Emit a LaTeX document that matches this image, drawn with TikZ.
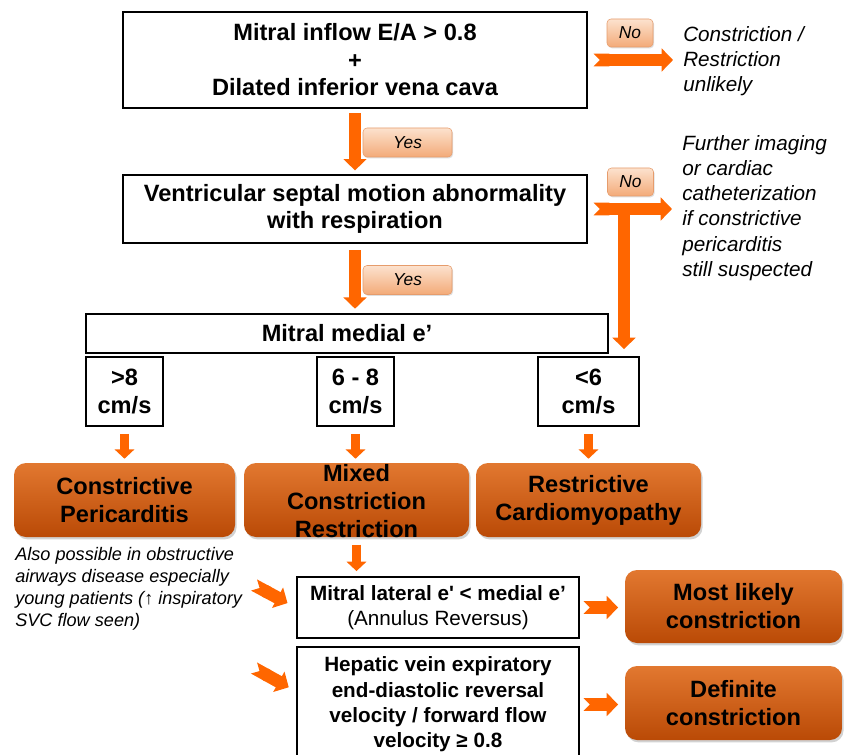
\documentclass[tikz,border=0pt]{standalone}
\usepackage{fontspec}
\setmainfont{Liberation Sans}[Ligatures=TeXOff]
\usetikzlibrary{%
        arrows.meta,
        shadows
    }
\definecolor{flame}{RGB}{255, 102, 0}
\definecolor{rusttop}{RGB}{226, 120, 48}
\definecolor{rustbot}{RGB}{186, 74, 6}
\definecolor{peachtop}{RGB}{252, 226, 206}
\definecolor{peachbot}{RGB}{243, 170, 120}
\definecolor{peachline}{RGB}{230, 156, 108}
\tikzset{%
    question/.style={draw, line width=1.9pt, align=center, inner sep=0pt,
        font=\fontsize{17.7}{20.6}\selectfont\bfseries},
    criterion/.style={question, font=\fontsize{15.5}{18.9}\selectfont},
    outcome/.style={rounded corners=9pt, top color=rusttop,
        bottom color=rustbot, align=center, inner sep=0pt,
        drop shadow={shadow xshift=1.2pt, shadow yshift=-1.8pt,
            opacity=0.35},
        font=\fontsize{17.7}{21}\selectfont\bfseries},
    answer/.style={rounded corners=3pt, top color=peachtop,
        bottom color=peachbot, draw=peachline, line width=0.4pt,
        inner sep=0pt, drop shadow={shadow xshift=0.8pt,
            shadow yshift=-1pt, opacity=0.25},
        font=\fontsize{13}{15}\selectfont\itshape},
    remark/.style={align=left, inner sep=0pt,
        font=\fontsize{15.5}{18.9}\selectfont\itshape},
    flow/.style={draw=flame, line width=9.5pt,
        -{Triangle[width=17pt, length=8.5pt]}},
    notched/.style={flow,
        {Triangle Cap[reversed]}-{Triangle[width=17pt, length=8.5pt]}},
    thinflow/.style={draw=flame, line width=7pt,
        -{Triangle[width=14.5pt, length=7pt]}}
}

\begin{document}
\begin{tikzpicture}[x=0.75pt, y=-0.75pt]

    \fill[white] (0, 0) rectangle (848, 755);
    \useasboundingbox (0, 0) rectangle (848, 755);

    % Questions
    \node[question, minimum width=348pt, minimum height=72pt] (inflow)
        at (355, 60) {Mitral inflow E/A > 0.8\\+\\Dilated inferior vena cava};
    \node[question, minimum width=348pt, minimum height=51pt] (septal)
        at (355, 209) {Ventricular septal motion abnormality\\with respiration};
    \node[question, minimum width=391.5pt, minimum height=29.25pt] (medial)
        at (347, 333.5) {Mitral medial e’};

    % Velocity ranges
    \node[question, minimum width=57.75pt, minimum height=51.75pt] (gt8)
        at (124.5, 391.5) {>8\\cm/s};
    \node[question, minimum width=57.75pt, minimum height=51.75pt] (mid)
        at (355.5, 391.5) {6 - 8\\cm/s};
    \node[question, minimum width=75.75pt, minimum height=51.75pt] (lt6)
        at (588.5, 391.5) {<6\\cm/s};

    % Diagnoses
    \node[outcome, minimum width=165.75pt, minimum height=55.5pt] (constr)
        at (124.5, 500) {Constrictive\\Pericarditis};
    \node[outcome, minimum width=168.75pt, minimum height=55.5pt] (mixed)
        at (356.5, 500) {\smash{\raisebox{-7.4pt}{%
            \begin{tabular}{@{}c@{}}
                Mixed\\Constriction\\Restriction
            \end{tabular}}}};
    \node[outcome, minimum width=168.75pt, minimum height=55.5pt] (restr)
        at (588.5, 500) {Restrictive\\Cardiomyopathy};

    % Further criteria
    \node[criterion, minimum width=211.5pt, minimum height=45.75pt] (lateral)
        at (438, 607.5) {\textbf{Mitral lateral e' < medial e’}\\
            (Annulus Reversus)};
    \node[criterion, minimum width=211.5pt, minimum height=86.25pt,
        font=\fontsize{15.5}{19}\selectfont\bfseries] (hepatic)
        at (438, 704.5) {Hepatic vein expiratory\\end-diastolic reversal\\
            velocity / forward flow\\velocity ≥ 0.8};
    \node[outcome, minimum width=162.75pt, minimum height=54.75pt] (likely)
        at (733.5, 606.5) {Most likely\\constriction};
    \node[outcome, minimum width=162.75pt, minimum height=55.5pt] (definite)
        at (733.5, 703) {Definite\\constriction};

    % Side remarks
    \node[remark, anchor=west] (unlikely) at (683, 61)
        {Constriction /\\Restriction\\unlikely};
    \node[remark, anchor=west, font=\fontsize{15.5}{18.95}\selectfont\itshape]
        (further) at (682, 208) {Further imaging\\or cardiac\\catheterization\\
            if constrictive\\pericarditis\\still suspected};
    \node[remark, anchor=west, font=\fontsize{13.6}{16.6}\selectfont\itshape]
        (airways) at (15, 589) {Also possible in obstructive\\
            airways disease especially\\young patients (↑ inspiratory\\
            SVC flow seen)};

    % Answers
    \node[answer, minimum width=66.75pt, minimum height=21.75pt] (yes1)
        at (407.5, 142.5) {Yes};
    \node[answer, minimum width=66.75pt, minimum height=21.75pt] (yes2)
        at (407.5, 280) {Yes};
    \node[answer, minimum width=34.5pt, minimum height=21pt] (no1)
        at (630, 33) {No};
    \node[answer, minimum width=34.5pt, minimum height=21pt] (no2)
        at (630.5, 182) {No};

    % Main flow
    \draw[flow, shorten <=3pt, shorten >=2.5pt] (inflow.south)
        -- (inflow.south |- septal.north);
    \draw[flow, shorten <=4.5pt, shorten >=3pt] (septal.south)
        -- (septal.south |- medial.north);
    \draw[notched, shorten <=4pt, shorten >=7.5pt] (inflow.east)
        -- (inflow.east -| unlikely.west);
    \draw[notched, shorten <=4pt, shorten >=7.5pt] (septal.east)
        -- (septal.east -| further.west);
    \coordinate (split) at (624, 209);
    \draw[flow, shorten >=5pt] (split) -- (split |- lt6.north);

    % Ranges to diagnoses
    \draw[thinflow, shorten <=5pt, shorten >=3pt] (gt8.south)
        -- (gt8.south |- constr.north);
    \draw[thinflow, shorten <=5pt, shorten >=3pt] (mid.south)
        -- (mid.south |- mixed.north);
    \draw[thinflow, shorten <=5pt, shorten >=3pt] (lt6.south)
        -- (lt6.south |- restr.north);
    \draw[thinflow, shorten <=5.5pt, shorten >=3.5pt] (mixed.south)
        -- (mixed.south |- lateral.north);

    % Mixed work-up
    \coordinate (hint1) at (254, 585);
    \coordinate (hint2) at (254, 668);
    \draw[notched, shorten >=7pt] (hint1) -- (lateral.west);
    \draw[notched, shorten >=6pt] (hint2) -- ([yshift=10pt] hepatic.west);
    \draw[notched, shorten <=2.5pt, shorten >=5pt] (lateral.east)
        -- (lateral.east -| likely.west);
    \draw[notched, shorten <=2.5pt, shorten >=5pt] (hepatic.east)
        -- (hepatic.east -| definite.west);

\end{tikzpicture}
\end{document}
